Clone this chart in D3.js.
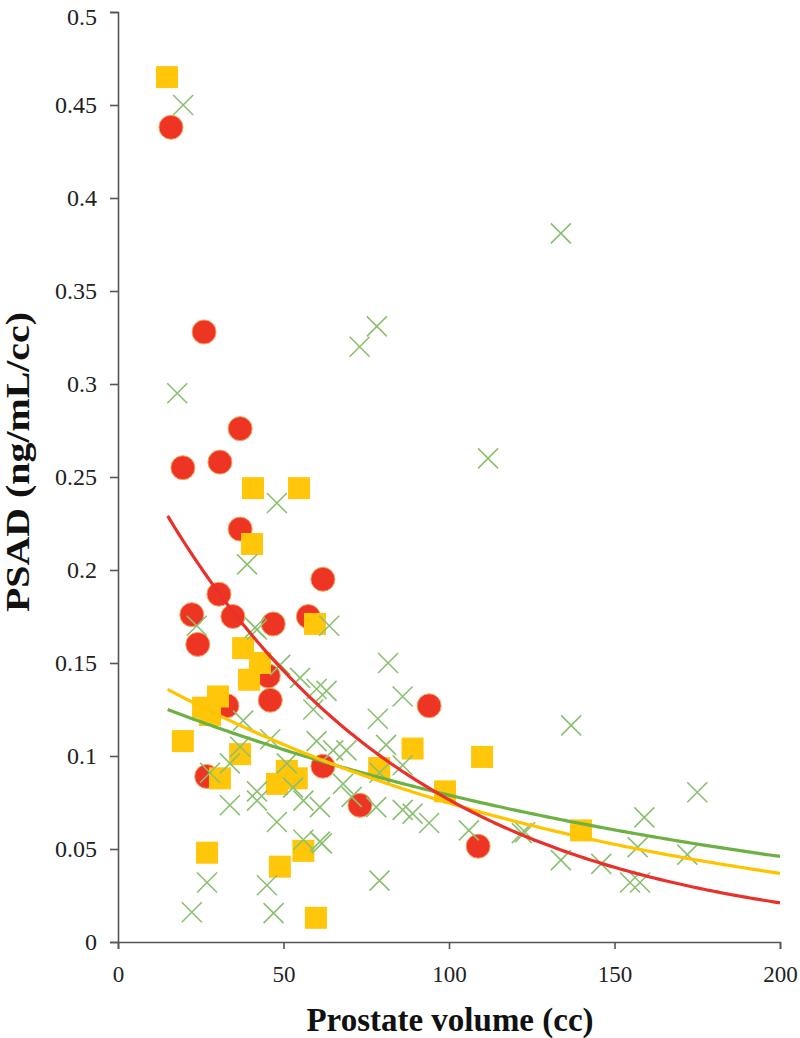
<!DOCTYPE html>
<html>
<head>
<meta charset="utf-8">
<script src="https://cdn.jsdelivr.net/npm/d3@7"></script>
<style>
  html, body { margin: 0; padding: 0; background: #fff; }
  svg { display: block; }
</style>
</head>
<body>
<svg id="chart" width="800" height="1038"></svg>
<script>
// ---- Data ----
const xTicks = [0, 50, 100, 150, 200];
const yTicks = [0, 0.05, 0.1, 0.15, 0.2, 0.25, 0.3, 0.35, 0.4, 0.45, 0.5];

// Red circles: [volume, PSAD]
const redX = [16, 26, 19.6, 30.8, 36.9, 36.9, 61.9, 30.5, 22.3, 34.7, 46.9, 57.5, 24.1, 45.4, 46, 32.9, 26.8, 61.9, 94, 73.1, 108.8];
const redY = [0.438, 0.328, 0.255, 0.258, 0.276, 0.222, 0.195, 0.187, 0.176, 0.175, 0.171, 0.175, 0.160, 0.143, 0.130, 0.127, 0.089, 0.0945, 0.127, 0.0735, 0.0515];

// Yellow squares
const yelX = [14.8, 40.8, 54.7, 40.5, 59.5, 37.8, 42.9, 39.6, 30.2, 25.7, 27.8, 19.6, 36.9, 30.8, 51, 48, 54, 26.9, 48.9, 56, 59.8, 89, 110, 78.9, 98.8, 139.9];
const yelY = [0.465, 0.244, 0.244, 0.214, 0.171, 0.158, 0.150, 0.141, 0.132, 0.126, 0.122, 0.108, 0.101, 0.088, 0.092, 0.085, 0.088, 0.048, 0.0405, 0.049, 0.013, 0.104, 0.0995, 0.0935, 0.081, 0.060];

// Green crosses
const grnX = [19.7, 17.9, 48, 39, 23.8, 41.4, 63.8, 42, 49, 55, 60, 63, 59, 37.8, 36.9, 46, 60, 65, 33.8, 51, 27.8, 42, 52.9, 33.8, 42, 56, 61, 48, 56, 61.6, 26.9, 45, 22.3, 47,
  81.6, 86, 78.5, 81, 69, 79, 86, 68, 70.6, 78, 86, 89, 94, 106, 123, 61, 79,
  78.2, 73, 111.8, 133.8, 136.9, 175, 159, 122, 133.8, 146, 157, 172, 154.7, 157.7];
const grnY = [0.450, 0.295, 0.236, 0.203, 0.170, 0.169, 0.170, 0.168, 0.149, 0.142, 0.136, 0.135, 0.125, 0.119, 0.105, 0.109, 0.108, 0.103, 0.096, 0.096, 0.091, 0.081, 0.083, 0.0735, 0.076, 0.076, 0.0725, 0.0645, 0.055, 0.053, 0.032, 0.0305, 0.016, 0.0155,
  0.150, 0.132, 0.120, 0.106, 0.103, 0.091, 0.095, 0.085, 0.078, 0.0725, 0.071, 0.069, 0.064, 0.060, 0.059, 0.054, 0.033,
  0.331, 0.320, 0.260, 0.381, 0.1165, 0.0805, 0.067, 0.0585, 0.044, 0.042, 0.051, 0.047, 0.032, 0.032];

// Exponential trend lines y = a * exp(b * x), drawn from x = 15 to 200
const trendRange = [15, 200];
const redFit = [0.278, -0.0129];
const yelFit = [0.151, -0.00704];
const grnFit = [0.1355, -0.0054];

// ---- Layout ----
const svg = d3.select("#chart");
const x = d3.scaleLinear().domain([0, 200]).range([118, 780]);
const y = d3.scaleLinear().domain([0, 0.5]).range([942, 12]);

const serif = "'Liberation Serif', 'Times New Roman', serif";
const axisColor = "#555";

// Axes
const xAxis = svg.append("g").attr("transform", `translate(0,${y(0)})`)
  .call(d3.axisBottom(x).tickValues(xTicks).tickSize(7).tickPadding(17).tickFormat(d3.format("d")));
const yAxis = svg.append("g").attr("transform", `translate(${x(0)},0)`)
  .call(d3.axisLeft(y).tickValues(yTicks).tickSize(8).tickPadding(13).tickFormat(d => d === 0 ? "0" : String(+d.toFixed(2))));

[xAxis, yAxis].forEach(g => {
  g.select(".domain").attr("stroke", axisColor).attr("stroke-width", 1.6);
  g.selectAll(".tick line").attr("stroke", axisColor).attr("stroke-width", 1.6);
  g.selectAll(".tick text").attr("fill", "#222").style("font-family", serif);
});
xAxis.selectAll(".tick text").style("font-size", "23px");
yAxis.selectAll(".tick text").style("font-size", "24px");
// keep the top label fully inside the picture
yAxis.selectAll(".tick text").filter(d => d === 0.5).attr("dy", "0.5em");

// Axis titles
svg.append("text")
  .attr("x", 450).attr("y", 1031)
  .attr("text-anchor", "middle")
  .style("font-family", serif).style("font-weight", "bold").style("font-size", "33px")
  .attr("fill", "#111")
  .text("Prostate volume (cc)");
svg.append("text")
  .attr("transform", "translate(29,462) rotate(-90)")
  .attr("text-anchor", "middle")
  .attr("textLength", 300).attr("lengthAdjust", "spacingAndGlyphs")
  .style("font-family", serif).style("font-weight", "bold").style("font-size", "34px")
  .attr("fill", "#111")
  .text("PSAD (ng/mL/cc)");

// Markers
const red = redX.map((v, i) => ({x: v, y: redY[i]}));
const yel = yelX.map((v, i) => ({x: v, y: yelY[i]}));
const grn = grnX.map((v, i) => ({x: v, y: grnY[i]}));

svg.append("g").selectAll("circle").data(red).join("circle")
  .attr("cx", d => x(d.x)).attr("cy", d => y(d.y)).attr("r", 12)
  .attr("fill", "#EE3524").attr("stroke", "#F7A35C").attr("stroke-width", 1);

svg.append("g").selectAll("rect").data(yel).join("rect")
  .attr("x", d => x(d.x) - 11).attr("y", d => y(d.y) - 11)
  .attr("width", 22).attr("height", 22)
  .attr("fill", "#FFC60A");

const s = 10;
svg.append("g").selectAll("path").data(grn).join("path")
  .attr("d", d => {
    const cx = x(d.x), cy = y(d.y);
    return `M${cx - s},${cy - s}L${cx + s},${cy + s}M${cx - s},${cy + s}L${cx + s},${cy - s}`;
  })
  .attr("stroke", "#8CC071").attr("stroke-width", 1.6).attr("fill", "none");

// Trend lines
const xs = d3.range(trendRange[0], trendRange[1] + 0.5, 1);
const line = d3.line().x(d => x(d[0])).y(d => y(d[1])).curve(d3.curveLinear);
[[grnFit, "#6DB043"], [yelFit, "#FFC400"], [redFit, "#E8312A"]].forEach(([f, c]) => {
  svg.append("path")
    .attr("d", line(xs.map(v => [v, f[0] * Math.exp(f[1] * v)])))
    .attr("fill", "none").attr("stroke", c).attr("stroke-width", 3.2);
});
</script>
</body>
</html>
